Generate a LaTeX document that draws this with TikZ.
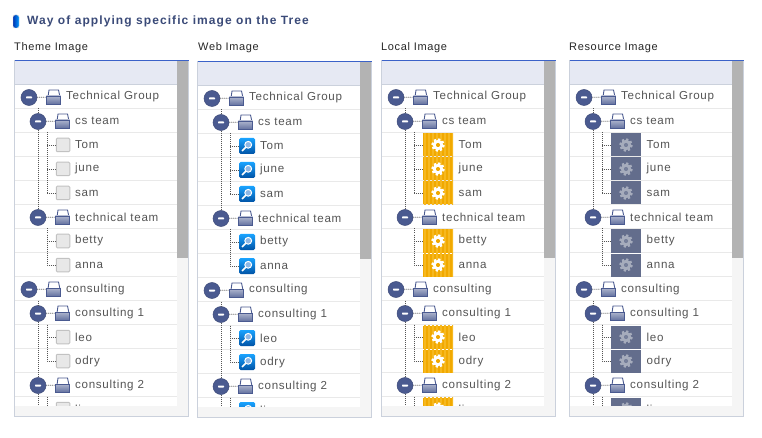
\documentclass[tikz,border=0pt]{standalone}
\usepackage{fontspec}
\setmainfont{Liberation Sans}
\newfontfamily\treefont[LetterSpace=6]{Liberation Sans}
\newfontfamily\headfont[LetterSpace=9]{Liberation Sans}
\usepackage{tikz}
\usetikzlibrary{shapes}

\definecolor{headbar}{HTML}{E6E9F3}
\definecolor{frameline}{HTML}{CBD1DC}
\definecolor{topline}{HTML}{3B62C8}
\definecolor{rowline}{HTML}{E9E9E9}
\definecolor{scrollbar}{HTML}{B3B3B3}
\definecolor{scrolltrack}{HTML}{F5F5F5}
\definecolor{treeblue}{HTML}{4A5A90}
\definecolor{treetext}{HTML}{555555}
\definecolor{titleblue}{HTML}{3A4A78}
\definecolor{amberdark}{HTML}{F1A900}
\definecolor{amberlight}{HTML}{F6B820}
\definecolor{slatebox}{HTML}{636D8C}
\definecolor{slategear}{HTML}{A6ACBC}

\newcommand{\gearshape}[2]{%
  \draw[#1,line width=2.6pt,dash pattern=on 2.3pt off 2pt] (0,0) circle (5.6);
  \draw[#1,line width=3pt] (0,0) circle (3.6);
  \fill[#2] (0,0) circle (2);
}

\tikzset{
dotline/.style={draw=treetext, line width=0.7pt, dash pattern=on 1pt off 1pt},
paneltitle/.style={anchor=base west, inner sep=0, text=black!85, font=\treefont\fontsize{11}{13}\selectfont},
treelabel/.style={anchor=west, inner sep=0, text=treetext, font=\treefont\fontsize{11.6}{14}\selectfont},
expander/.style={circle, inner sep=0, minimum size=16pt, fill=treeblue, draw=treeblue!85!black, line width=0.5pt,
  path picture={\fill[white,rounded corners=0.6pt] ([shift={(-3,-1)}]path picture bounding box.center) rectangle ([shift={(3,1)}]path picture bounding box.center);}},
foldericon/.style={rectangle, inner sep=0, minimum width=15.5pt, minimum height=15.5pt,
  path picture={\begin{scope}[shift={(path picture bounding box.center)}]
    \filldraw[fill=white,draw=treeblue,line width=0.9pt] (-5.5,0) -- (-4.5,-7) -- (5,-7) -- (6.5,0) -- cycle;
    \shade[top color=white!55!treeblue,bottom color=treeblue!85] (-7.2,-1) rectangle (7.2,7);
    \draw[treeblue,line width=0.9pt] (-7.2,-1) rectangle (7.2,7);
  \end{scope}}},
themebox/.style={rectangle, rounded corners=1pt, inner sep=0, minimum size=13.5pt, fill=black!9, draw=black!24, line width=1pt},
webbox/.style={rectangle, rounded corners=1.5pt, inner sep=0, minimum size=16pt, top color=cyan!60!blue!90, bottom color=cyan!50!blue!65!black,
  path picture={\begin{scope}[shift={(path picture bounding box.center)}]
    \draw[white,line width=1pt,fill=cyan!60!blue!45] (1.2,-1.2) circle (3.4);
    \draw[white,line width=1.5pt] (-1.2,1.2) -- (-5,5);
  \end{scope}}},
localbox/.style={rectangle, inner sep=0, minimum width=30pt, minimum height=23pt, fill=amberdark,
  path picture={\begin{scope}[shift={(path picture bounding box.center)}]
    \foreach \s in {-14,-10,...,14} \fill[amberlight] (\s,-12) rectangle ++(1.6,24);
    \gearshape{white}{amberdark}
  \end{scope}}},
resourcebox/.style={rectangle, inner sep=0, minimum width=30pt, minimum height=23pt, fill=slatebox,
  path picture={\begin{scope}[shift={(path picture bounding box.center)}]
    \gearshape{slategear}{slatebox!70!slategear}
  \end{scope}}},
}

% one group row with its expander, folder and text
\newcommand{\treegroup}[4]{%
  \node[expander] (#1-exp) at (#2,{37+24*#3}) {};
  \node[foldericon] (#1-box) at ({#2+24.5},{36.5+24*#3}) {};
  \node[treelabel] (#1-text) at ({#2+37},{36.5+24*#3}) {#4};
  \coordinate (#1-stub) at ({#2+9},{48+24*#3});
  \coordinate (#1-top) at (#2,{24+24*#3});
  \draw[dotline] (#1-exp) -- (#1-box);
}
% one leaf row
\newcommand{\treeleaf}[4]{%
  \node[leaficon] (#2-box) at (\leafx,{36.5+24*#3}) {};
  \node[treelabel] (#2-text) at (\leaftextx,{36.5+24*#3}) {#4};
  \draw[dotline] (#1-stub) |- (#2-box.west);
}

\newcommand{\treepanel}[6]{%
\begin{scope}[shift={(#2,#3)}, name prefix=#1-, leaficon/.style={#4}]
  \def\leafx{#5}\def\leaftextx{#6}
  % frame
  \fill[white] (0,0) rectangle (174,356);
  \fill[headbar] (0,0) rectangle (174,24);
  \fill[scrolltrack] (0,345) rectangle (174,356);
  \fill[scrolltrack] (162,24) rectangle (174,356);
  \fill[scrollbar] (162,0) rectangle (173.5,197);
  \foreach \r in {2,...,14} \draw[rowline] (0,24*\r) -- (162,24*\r);
  \draw[frameline] (0,24) -- (162,24);
  \draw[frameline] (0,0) rectangle (174,356);
  \draw[topline,line width=1pt] (0,0) -- (174,0);
  % tree
  \begin{scope}
    \clip (0.5,24.5) rectangle (162,345);
    \treegroup{tech}{14.5}{0}{Technical Group}
    \treegroup{cs}{23.5}{1}{cs team}
    \treeleaf{cs}{tom}{2}{Tom}
    \treeleaf{cs}{june}{3}{june}
    \treeleaf{cs}{sam}{4}{sam}
    \treegroup{team}{23.5}{5}{technical team}
    \treeleaf{team}{betty}{6}{betty}
    \treeleaf{team}{anna}{7}{anna}
    \treegroup{cons}{14.5}{8}{consulting}
    \treegroup{consa}{23.5}{9}{consulting 1}
    \treeleaf{consa}{leo}{10}{leo}
    \treeleaf{consa}{odry}{11}{odry}
    \treegroup{consb}{23.5}{12}{consulting 2}
    \treeleaf{consb}{li}{13}{li}
    \coordinate (end) at (23.5,360);
    \draw[dotline] (cs-top) -- (cs-exp);
    \draw[dotline] (cs-exp) -- (team-exp);
    \draw[dotline] (consa-top) -- (consa-exp);
    \draw[dotline] (consa-exp) -- (consb-exp);
    \draw[dotline] (consb-exp) -- (end);
  \end{scope}
\end{scope}
}

\begin{document}
\begin{tikzpicture}[x=1pt,y=-1pt]
\useasboundingbox (0,0) rectangle (762,438);
%Heading
\node[rectangle, rounded corners=2pt, inner sep=0, minimum width=6pt, minimum height=13pt, left color=blue!70!cyan!70!black, right color=cyan!60!blue, draw=black!15] (bullet) at (16,21.5) {};
\node[anchor=base west, inner sep=0, text=titleblue, font=\headfont\bfseries\fontsize{12}{14}\selectfont] (heading) at (27,25) {Way of applying specific image on the Tree};
%Titles
\node[paneltitle] (theme-title) at (14,51) {Theme Image};
\node[paneltitle] (web-title) at (198,51) {Web Image};
\node[paneltitle] (local-title) at (381,51) {Local Image};
\node[paneltitle] (resource-title) at (569,51) {Resource Image};
%Panels
\treepanel{theme}{14.5}{60.5}{themebox}{48.5}{60.5}
\treepanel{web}{197.5}{61.5}{webbox}{49.5}{62.5}
\treepanel{local}{381.5}{60.5}{localbox}{56.5}{77}
\treepanel{resource}{569.5}{60.5}{resourcebox}{56.5}{77}
\end{tikzpicture}
\end{document}
